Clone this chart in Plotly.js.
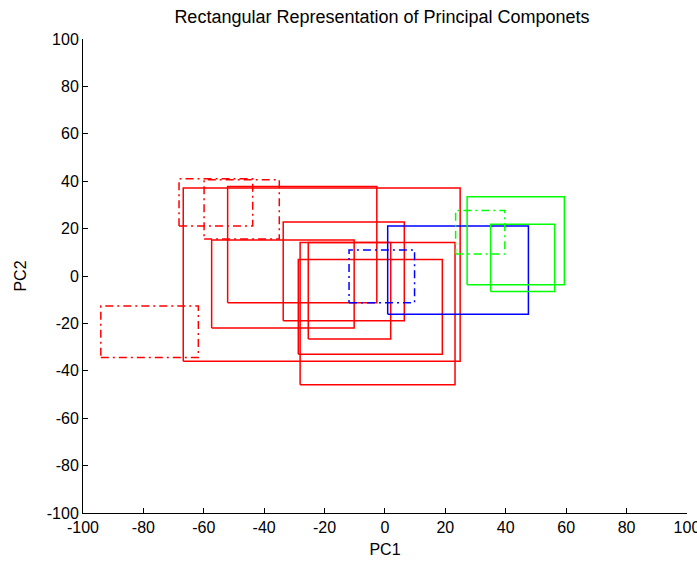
<!DOCTYPE html>
<html>
<head>
<meta charset="utf-8">
<script src="https://cdn.plot.ly/plotly-3.0.1.min.js"></script>
<style>html,body{margin:0;padding:0;background:#fff;}#chart{width:697px;height:562px;}</style>
</head>
<body>
<div id="chart"></div>
<script>
// Rectangle extents (PC1 min/max, PC2 min/max)
var redSolidX0 = [-66.8, -52.1, -33.7, -57.4, -25.4, -28.1, -28.7];
var redSolidX1 = [ 24.9,  -2.7,   6.4, -10.2,   1.9,  23.2,  19.0];
var redSolidY0 = [-36.0, -11.3, -18.9, -21.9, -26.6, -45.9, -33.0];
var redSolidY1 = [ 37.1,  37.8,  22.8,  15.2,  14.1,  14.1,   7.0];

var redDashX0 = [-68.2, -59.9, -94.1];
var redDashX1 = [-43.8, -35.0, -61.8];
var redDashY0 = [ 21.1,  15.6, -34.4];
var redDashY1 = [ 41.0,  40.6, -12.7];

var blueSolidX0 = [0.9];
var blueSolidX1 = [47.5];
var blueSolidY0 = [-16.1];
var blueSolidY1 = [21.1];

var blueDashX0 = [-11.9];
var blueDashX1 = [9.8];
var blueDashY0 = [-11.3];
var blueDashY1 = [11.0];

var greenSolidX0 = [27.2, 35.0];
var greenSolidX1 = [59.4, 56.2];
var greenSolidY0 = [-3.7, -6.5];
var greenSolidY1 = [33.5, 21.9];

var greenDashX0 = [23.4];
var greenDashX1 = [39.7];
var greenDashY0 = [9.3];
var greenDashY1 = [27.6];

var axisTicks = [-100, -80, -60, -40, -20, 0, 20, 40, 60, 80, 100];

var DASHDOT = '8px,4px,2px,4px';
var traces = [];
function addRects(x0, x1, y0, y1, color, dash) {
  for (var i = 0; i < x0.length; i++) {
    traces.push({
      type: 'scatter', mode: 'lines',
      x: [x0[i], x1[i], x1[i], x0[i], x0[i]],
      y: [y0[i], y0[i], y1[i], y1[i], y0[i]],
      line: {color: color, width: 1.5, dash: dash},
      hoverinfo: 'skip', showlegend: false, cliponaxis: false
    });
  }
}
addRects(redSolidX0, redSolidX1, redSolidY0, redSolidY1, '#ff0000', 'solid');
addRects(redDashX0, redDashX1, redDashY0, redDashY1, '#ff0000', DASHDOT);
addRects(blueSolidX0, blueSolidX1, blueSolidY0, blueSolidY1, '#0000ff', 'solid');
addRects(blueDashX0, blueDashX1, blueDashY0, blueDashY1, '#0000ff', DASHDOT);
addRects(greenSolidX0, greenSolidX1, greenSolidY0, greenSolidY1, '#00ff00', 'solid');
addRects(greenDashX0, greenDashX1, greenDashY0, greenDashY1, '#00ff00', DASHDOT);

var FONT = 'Liberation Sans, Arial, sans-serif';
var axisCommon = {
  tickmode: 'array', tickvals: axisTicks,
  ticktext: axisTicks.map(String),
  ticks: 'inside', ticklen: 5, tickwidth: 1, tickcolor: '#000',
  showline: true, linecolor: '#000', linewidth: 1, mirror: false,
  showgrid: false, zeroline: false, ticklabeloverflow: 'allow',
  tickfont: {family: FONT, size: 16, color: '#000'}
};
var layout = {
  width: 697, height: 562,
  margin: {l: 83, r: 10, t: 39, b: 49, pad: 0},
  paper_bgcolor: '#fff', plot_bgcolor: '#fff',
  title: {text: 'Rectangular Representation of Principal Componets',
          font: {family: FONT, size: 18, color: '#000'},
          x: 382 / 697, xanchor: 'center', y: 1 - 17 / 562, yanchor: 'middle'},
  xaxis: Object.assign({}, axisCommon, {
    range: [-100, 100.02],
    title: {text: 'PC1', font: {family: FONT, size: 16, color: '#000'}, standoff: 8}
  }),
  yaxis: Object.assign({}, axisCommon, {
    range: [-100, 100.02],
    title: {text: 'PC2', font: {family: FONT, size: 16, color: '#000'}, standoff: 16}
  }),
  showlegend: false
};
Plotly.newPlot('chart', traces, layout, {displayModeBar: false, staticPlot: true});
</script>
</body>
</html>
